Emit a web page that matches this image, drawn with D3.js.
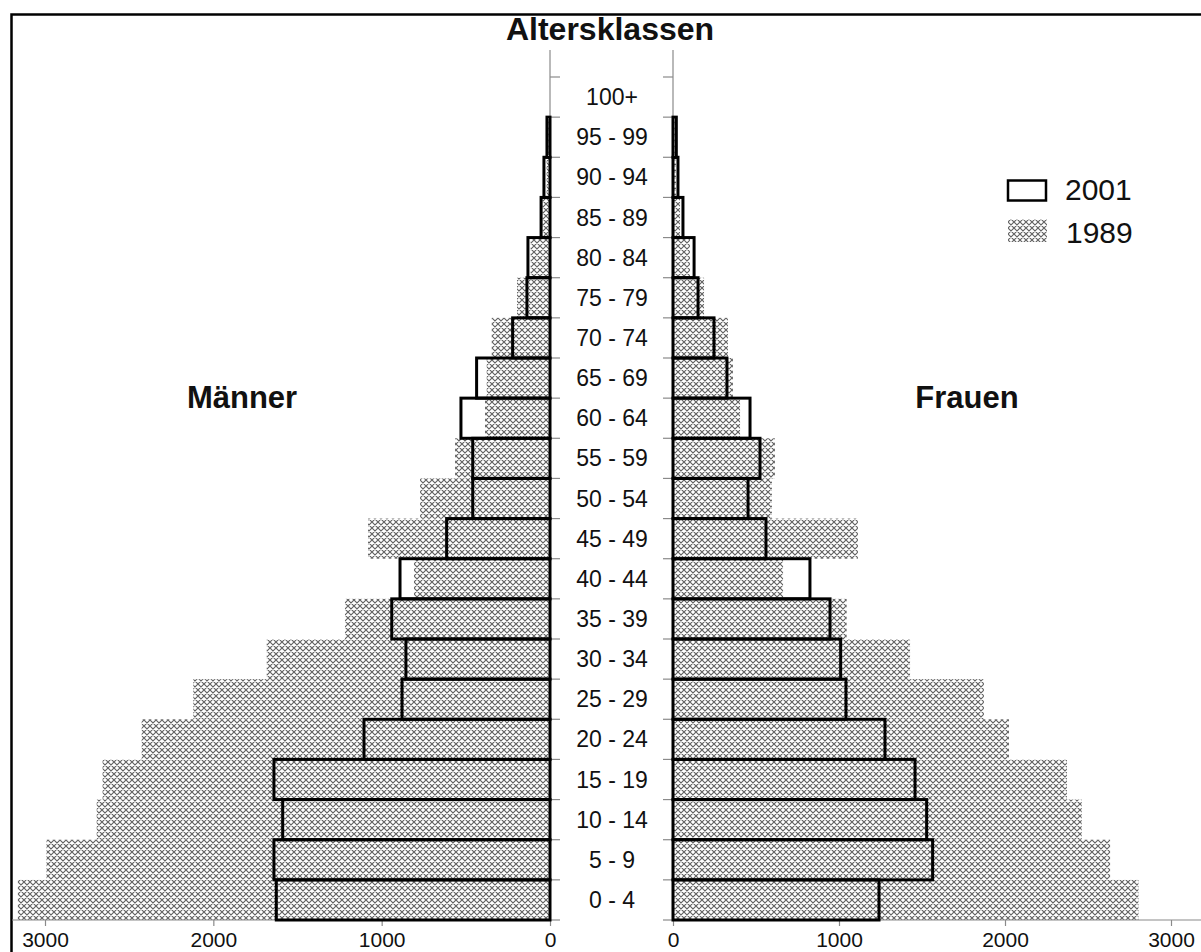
<!DOCTYPE html>
<html>
<head>
<meta charset="utf-8">
<script src="https://cdn.jsdelivr.net/npm/d3@7"></script>
<style>
  html, body { margin: 0; padding: 0; background: #fff; }
  svg { display: block; }
  text { font-family: "Liberation Sans", Arial, sans-serif; fill: #111; }
</style>
</head>
<body>
<svg id="chart" width="1201" height="952"></svg>
<script>
const categories = ["0 - 4","5 - 9","10 - 14","15 - 19","20 - 24","25 - 29","30 - 34","35 - 39","40 - 44","45 - 49","50 - 54","55 - 59","60 - 64","65 - 69","70 - 74","75 - 79","80 - 84","85 - 89","90 - 94","95 - 99","100+"];
const male2001   = [1626,1640,1588,1640,1105,879,856,940,891,614,459,459,529,436,222,137,131,53,36,18,0];
const male1989   = [3161,2991,2693,2658,2426,2119,1683,1218,808,1081,772,564,386,376,346,196,115,45,20,10,0];
const female2001 = [1241,1564,1528,1458,1277,1042,1010,946,825,560,452,524,464,325,247,151,127,60,30,20,0];
const female1989 = [2804,2633,2462,2373,2024,1873,1428,1046,663,1114,596,614,404,361,331,187,102,42,18,10,0];
const xTicks = [0,1000,2000,3000];
const legendLabels = ["2001","1989"];

const svg = d3.select("#chart");

// hatch pattern
const defs = svg.append("defs");
const pat = defs.append("pattern").attr("id","hatch").attr("patternUnits","userSpaceOnUse")
  .attr("width",6).attr("height",6);
pat.append("rect").attr("width",6).attr("height",6).attr("fill","#fff");
pat.append("path").attr("d","M0,0L6,6M6,0L0,6M-1,5L1,7M5,-1L7,1M-1,1L1,-1M5,7L7,5")
  .attr("stroke","#626262").attr("stroke-width",1.15).attr("fill","none");

// frame
svg.append("rect").attr("x",11.5).attr("y",14.5).attr("width",1300).attr("height",1000)
  .attr("fill","none").attr("stroke","#000").attr("stroke-width",2.5);

const y = d3.scaleBand().domain(categories).range([920, 77]).padding(0);
const xL = d3.scaleLinear().domain([0,3000]).range([550,45]);
const xR = d3.scaleLinear().domain([0,3000]).range([673,1171]);

const rows = categories.map((c,i)=>({c, m01:male2001[i], m89:male1989[i], f01:female2001[i], f89:female1989[i]}));

// 1989 hatched bars
svg.append("g").selectAll("rect").data(rows).join("rect")
  .attr("x", d=>xL(d.m89)).attr("y", d=>y(d.c))
  .attr("width", d=>xL(0)-xL(d.m89)).attr("height", y.bandwidth())
  .attr("fill","url(#hatch)");
svg.append("g").selectAll("rect").data(rows).join("rect")
  .attr("x", xR(0)).attr("y", d=>y(d.c))
  .attr("width", d=>xR(d.f89)-xR(0)).attr("height", y.bandwidth())
  .attr("fill","url(#hatch)");

// axes lines (vertical)
const axG = svg.append("g").attr("stroke","#8a8a8a").attr("stroke-width",1.2);
axG.append("line").attr("x1",xL(0)).attr("x2",xL(0)).attr("y1",50).attr("y2",920);
axG.append("line").attr("x1",xR(0)).attr("x2",xR(0)).attr("y1",50).attr("y2",920);
const bounds = categories.map(c=>y(c)).concat([y(categories[0])+y.bandwidth()]);
axG.selectAll("line.tl").data(bounds).join("line").attr("class","tl")
  .attr("x1",xL(0)).attr("x2",xL(0)+10).attr("y1",d=>d).attr("y2",d=>d);
axG.selectAll("line.tr").data(bounds).join("line").attr("class","tr")
  .attr("x1",xR(0)-10).attr("x2",xR(0)).attr("y1",d=>d).attr("y2",d=>d);

// bottom axes
const axL = d3.axisBottom(xL).tickValues(xTicks).tickSize(6).tickPadding(6).tickSizeOuter(0).tickFormat(d3.format("d"));
const axR = d3.axisBottom(xR).tickValues(xTicks).tickSize(6).tickPadding(6).tickSizeOuter(0).tickFormat(d3.format("d"));
[[axL, 12, xL(0)],[axR, xR(0), 1201]].forEach(([ax, a, b])=>{
  const g = svg.append("g").attr("transform","translate(0,920)").call(ax);
  g.select(".domain").remove();
  g.selectAll(".tick line").attr("stroke","#8a8a8a").attr("stroke-width",1.2);
  g.selectAll(".tick text").style("font-size","21px").attr("fill","#111")
   .style("font-family","'Liberation Sans', Arial, sans-serif");
  g.append("line").attr("x1",a).attr("x2",b).attr("y1",0).attr("y2",0)
   .attr("stroke","#8a8a8a").attr("stroke-width",1.2);
});

// 2001 outlined bars
svg.append("g").selectAll("rect").data(rows.filter(d=>d.m01>0)).join("rect")
  .attr("x", d=>xL(d.m01)).attr("y", d=>y(d.c))
  .attr("width", d=>xL(0)-xL(d.m01)).attr("height", y.bandwidth())
  .attr("fill","none").attr("stroke","#000").attr("stroke-width",3);
svg.append("g").selectAll("rect").data(rows.filter(d=>d.f01>0)).join("rect")
  .attr("x", xR(0)).attr("y", d=>y(d.c))
  .attr("width", d=>xR(d.f01)-xR(0)).attr("height", y.bandwidth())
  .attr("fill","none").attr("stroke","#000").attr("stroke-width",3);

// category labels
svg.append("g").selectAll("text").data(categories).join("text")
  .attr("x", 612).attr("y", d=>y(d)+y.bandwidth()/2+8)
  .attr("text-anchor","middle").style("font-size","23px").text(d=>d);

// titles
svg.append("text").attr("x",610).attr("y",40).attr("text-anchor","middle")
  .style("font-size","32px").style("font-weight","bold").text("Altersklassen");
svg.append("text").attr("x",242).attr("y",408).attr("text-anchor","middle")
  .style("font-size","31px").style("font-weight","bold").text("Männer");
svg.append("text").attr("x",967).attr("y",408).attr("text-anchor","middle")
  .style("font-size","31px").style("font-weight","bold").text("Frauen");

// legend
svg.append("rect").attr("x",1008).attr("y",180.5).attr("width",38).attr("height",20)
  .attr("fill","none").attr("stroke","#000").attr("stroke-width",2.5);
svg.append("rect").attr("x",1008).attr("y",219).attr("width",39).attr("height",23)
  .attr("fill","url(#hatch)");
svg.append("text").attr("x",1065).attr("y",200).style("font-size","30px").text(legendLabels[0]);
svg.append("text").attr("x",1066).attr("y",243).style("font-size","30px").text(legendLabels[1]);
</script>
</body>
</html>
